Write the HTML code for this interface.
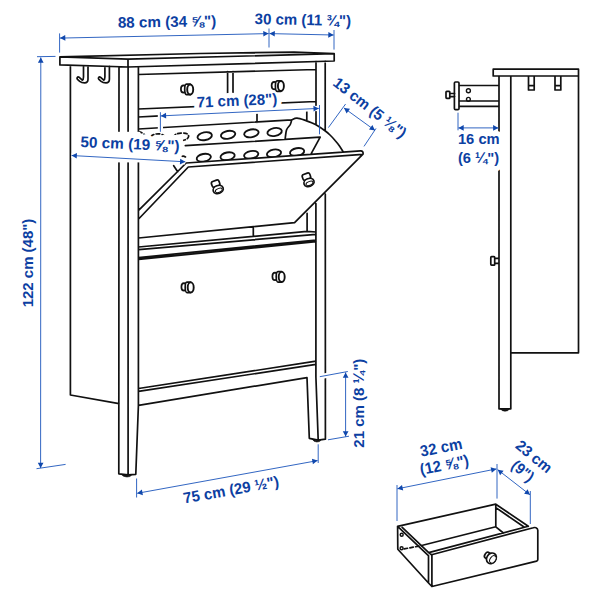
<!DOCTYPE html>
<html lang="en"><head><meta charset="utf-8"><title>Shoe cabinet dimensions</title>
<style>html,body{margin:0;padding:0;background:#fff}body{width:600px;height:600px;overflow:hidden}svg{display:block}</style></head>
<body>
<svg width="600" height="600" viewBox="0 0 600 600">
<rect width="600" height="600" fill="#fff"/>
<g fill="none" stroke="#111" stroke-width="1.7" stroke-linecap="round" stroke-linejoin="round">
<path stroke-dasharray="3.4 2.4" d="M138.7 131.7 Q142 132.3 144.6 134.8 M151 136.3 Q153.5 133.6 159.5 133.9 Q164 134.5 165 137.3 M173.7 137.2 Q174 133.6 181 133.1 Q189 132.6 188.6 136.6 Q188 139 183.7 140.3 M182.3 156.3 Q184 155.6 186.3 157.6 M404.2 548.9 L421.5 545.6"/>
<ellipse cx="204.7" cy="136.2" rx="7.3" ry="3.9" stroke-width="1.85" transform="rotate(-11 204.7 136.2)"/>
<ellipse cx="228.1" cy="134.8" rx="7.3" ry="3.9" stroke-width="1.85" transform="rotate(-11 228.1 134.8)"/>
<ellipse cx="251.4" cy="133.3" rx="7.3" ry="3.9" stroke-width="1.85" transform="rotate(-11 251.4 133.3)"/>
<ellipse cx="274.6" cy="132" rx="7.3" ry="3.9" stroke-width="1.85" transform="rotate(-11 274.6 132)"/>
<ellipse cx="203.8" cy="157.7" rx="7.2" ry="3.8" stroke-width="1.85" transform="rotate(-11 203.8 157.7)"/>
<ellipse cx="227.6" cy="156.2" rx="7.2" ry="3.8" stroke-width="1.85" transform="rotate(-11 227.6 156.2)"/>
<ellipse cx="251.2" cy="154.8" rx="7.2" ry="3.8" stroke-width="1.85" transform="rotate(-11 251.2 154.8)"/>
<ellipse cx="274" cy="153.4" rx="7.2" ry="3.8" stroke-width="1.85" transform="rotate(-11 274 153.4)"/>
<ellipse cx="297.1" cy="152" rx="7.2" ry="3.8" stroke-width="1.85" transform="rotate(-11 297.1 152)"/>
<path fill="#fff" stroke="none" d="M138.6 210.3 L186.2 163 L360.6 150.9 L363 154.2 L294.6 222.6 L138.6 238Z"/>
<path d="M59.9 64.9 L59.9 56.9 L200.0 53.5 L294.0 52.1 L334.2 53.7 L334.2 61.0 L128.0 67.0 L59.9 64.9 M59.9 56.9 L128.0 59.1 L334.2 53.7 M128.0 59.1 L128.0 67.0 M70.4 65.8 L70.4 395.0 L119.0 403.6 M88.0 66.4 L88.0 79.3 C88.0 81.8 86.6 82.9 84.6 82.9 C82.6 82.9 80.9 82.4 79.7 81.4 L77.5 79.4 C76.4 78.2 77.6 76.3 79.0 77.2 L82.3 80.1 C83.2 79.8 83.5 78.8 83.5 77 L83.5 66.3 M109.4 66.4 L109.4 79.3 C109.4 81.8 108.0 82.9 106.0 82.9 C104.0 82.9 102.3 82.4 101.1 81.4 L98.9 79.4 C97.8 78.2 99.0 76.3 100.4 77.2 L103.7 80.1 C104.6 79.8 104.9 78.8 104.9 77 L104.9 66.3 M119.0 66.8 L118.8 473.8 L128.1 474.8 L135.8 474.3 L138.4 405.5 L138.4 67.2 M128.1 67.0 L128.1 474.8 M316.0 61.6 L316.0 124.6 M325.2 61.3 L325.2 130.6 M315.9 203.5 L315.9 376.7 L318.2 440.2 M325.3 194.0 L325.4 439.2 L318.2 440.2 L309.3 438.3 L307.0 377.8 M138.4 74.5 L316.0 69.5 M138.4 109.0 L315.7 101.5 M227.6 71.7 L227.6 105.3 M233.0 71.5 L233.0 105.0 M138.4 117.0 L160.0 115.9 M138.6 129.0 L291.7 119.9 M257.0 112.0 L257.0 122.3 M306.8 110.6 L306.8 120.6 M291.7 119.8 C292.6 119.5 294.6 118.1 297.0 118.2 C299.4 118.3 303.5 119.8 306.0 120.6 C308.5 121.4 310.0 122.1 312.0 123.0 C314.0 123.9 315.8 124.7 318.0 126.0 C320.2 127.3 323.3 129.5 325.3 131.0 C327.3 132.5 328.3 133.4 330.0 135.0 C331.7 136.6 333.8 138.9 335.3 140.7 C336.9 142.5 338.0 143.9 339.3 145.7 C340.6 147.5 342.3 150.4 342.9 151.4 M291.7 119.8 C291.5 120.6 291.1 122.8 290.3 124.5 C289.5 126.2 287.5 127.4 286.6 129.8 C285.7 132.2 285.4 137.6 285.1 139.2 M185.3 145.7 L320.2 137.2 L311.2 153.6 M138.6 210.3 L186.2 163.0 L360.6 150.9 M360.6 150.9 Q363.6 150.8 363 154.2 M363.0 154.2 L294.6 222.6 L138.6 238.0 M138.6 219.0 L188.3 167.0 L362.6 154.4 M173.7 165.7 L177.7 171.7 M253.3 228.2 L253.3 235.8 M307.1 213.3 L307.1 231.4 M138.6 247.0 L307.0 231.4 L316.0 232.0 M138.6 249.6 L316.0 234.4 M138.6 257.6 L316.0 240.0 M138.6 259.4 L316.0 241.6 M138.5 388.5 L316.0 361.2 M138.5 391.3 L316.0 364.4 M138.5 405.3 L307.0 377.6 M493.2 69.2 L578.5 69.2 L578.5 76.0 L493.2 76.0 L493.2 69.2 M499.0 76.0 L499.0 408.8 L510.8 408.8 L510.8 76.0 M578.5 76.0 L578.5 352.8 L510.8 352.8 M528.5 76.0 L528.5 90.0 L534.2 90.0 L534.2 76.0 M528.5 85.6 L534.2 85.6 M555.0 76.0 L555.0 90.0 L560.8 90.0 L560.8 76.0 M555.0 85.6 L560.8 85.6 M455.5 82 H457.9 Q459 82 459 83.1 V108.6 Q459 109.7 457.9 109.7 H455.5 Q454.4 109.7 454.4 108.6 V83.1 Q454.4 82 455.5 82 Z M459.0 85.5 L499.0 85.5 M459.0 101.0 L499.0 101.0 M459.0 106.4 L499.0 106.4 M454.7 93.5 H449.8 V92.1 Q449.8 91.4 449.1 91.4 H446.8 Q446 91.4 446 92.2 V97.6 Q446 98.4 446.8 98.4 H449.1 Q449.8 98.4 449.8 97.7 V96.6 H454.7 M449.8 93.5 L449.8 96.6 M499 258.3 H494.7 V257.4 Q494.7 256.7 494 256.7 H491.6 Q490.8 256.7 490.8 257.5 V264.3 Q490.8 265.1 491.6 265.1 H494 Q494.7 265.1 494.7 264.4 V263.4 H499 M494.7 258.3 L494.7 263.4 M428.5 555.6 L428.5 583.0 L431.9 586.5 L536.6 561.1 M536.6 561.1 Q537.8 560.8 537.8 559.6 L537.8 530.2 Q537.7 528.3 536 527.7 Q534.6 527.3 533.3 527.7 L431.5 554.7 M431.9 554.8 L431.9 586.5 M428.7 552.6 L431.5 554.7 M428.7 552.6 L528.3 526.3 M397.6 526.3 L397.8 549.3 L428.5 583.0 M397.6 526.3 L428.4 555.7 M402.2 527.4 L428.7 552.6 M397.6 526.3 L495.8 504.2 L528.3 526.3 M495.8 507.6 L524.4 527.3 M495.8 505.0 L495.8 526.8 M422.6 545.2 L495.8 526.8 L503.4 533.0"/>
<path fill="#111" stroke-width="0.6" d="M121.6 474.6 L128.1 475.3 L131.6 475 Q130.6 477 127 477 Q123 477 121.6 474.6Z M312.4 439.5 L318.2 440.7 L321 440.2 Q320 442 316.8 442 Q313.4 441.8 312.4 439.5Z M500.8 409.2 H509.2 Q508.4 411.2 505 411.2 Q501.6 411.2 500.8 409.2Z"/>
<circle cx="468.4" cy="90.7" r="2.0" stroke-width="1.4"/>
<circle cx="468.4" cy="99.3" r="1.9" stroke-width="1.4"/>
<circle cx="401.7" cy="534.7" r="1.5" stroke-width="1.4"/>
<circle cx="401.6" cy="548.2" r="1.5" stroke-width="1.4"/>
</g>
<rect x="114" y="131.8" width="26.3" height="30.6" fill="#fff"/>
<path fill="none" stroke="#fff" stroke-width="5.2" stroke-linecap="butt" d="M160.4 112.2 L160.4 131.8 M160.8 115.9 L318.8 108.4 M71.6 155.5 L185.3 161.8 M319.8 376.7 L347.8 371.5"/>
<g font-family="'Liberation Sans', sans-serif" font-weight="700" text-anchor="middle" fill="#0c40a2" stroke="#fff" stroke-linejoin="round" paint-order="stroke">
<text x="167.1" y="27.0" font-size="15.3" stroke-width="10" textLength="98.4" lengthAdjust="spacingAndGlyphs" transform="rotate(-1 167.1 27.0)">88 cm (34 ⅝&quot;)</text>
<text x="302.8" y="25.0" font-size="15.3" stroke-width="10" textLength="96.4" lengthAdjust="spacingAndGlyphs" transform="rotate(1.2 302.8 25.0)">30 cm (11 ¾&quot;)</text>
<text x="32.8" y="263" font-size="14.5" stroke-width="10" textLength="88.7" lengthAdjust="spacingAndGlyphs" transform="rotate(-90 32.8 263)">122 cm (48&quot;)</text>
<text x="237.2" y="105.8" font-size="15.3" stroke-width="10" textLength="80.5" lengthAdjust="spacingAndGlyphs" transform="rotate(-2.4 237.2 105.8)">71 cm (28&quot;)</text>
<text x="129.8" y="149.2" font-size="15.3" stroke-width="10" textLength="99" lengthAdjust="spacingAndGlyphs" transform="rotate(2.4 129.8 149.2)">50 cm (19 ⅝&quot;)</text>
<text x="366.7" y="111.8" font-size="15.3" stroke-width="4" textLength="88" lengthAdjust="spacingAndGlyphs" transform="rotate(38 366.7 111.8)">13 cm (5 ⅛&quot;)</text>
<text x="363.9" y="403.2" font-size="15.3" stroke-width="10" textLength="89" lengthAdjust="spacingAndGlyphs" transform="rotate(-90 363.9 403.2)">21 cm (8 ¼&quot;)</text>
<text x="232" y="495" font-size="15.3" stroke-width="10" textLength="97" lengthAdjust="spacingAndGlyphs" transform="rotate(-10.2 232 495)">75 cm (29 ½&quot;)</text>
<text x="478.8" y="144.4" font-size="14.4" stroke-width="10" textLength="41.7" lengthAdjust="spacingAndGlyphs" transform="rotate(0 478.8 144.4)">16 cm</text>
<text x="478.6" y="163.2" font-size="14.4" stroke-width="10" textLength="41.3" lengthAdjust="spacingAndGlyphs" transform="rotate(0 478.6 163.2)">(6 ¼&quot;)</text>
<text x="442.2" y="452.7" font-size="15.8" stroke-width="10" textLength="42.5" lengthAdjust="spacingAndGlyphs" transform="rotate(-11.3 442.2 452.7)">32 cm</text>
<text x="445.4" y="470.2" font-size="15.8" stroke-width="10" textLength="49.5" lengthAdjust="spacingAndGlyphs" transform="rotate(-11.3 445.4 470.2)">(12 ⅝&quot;)</text>
<text x="530.6" y="460.6" font-size="15.3" stroke-width="10" textLength="42" lengthAdjust="spacingAndGlyphs" transform="rotate(39.5 530.6 460.6)">23 cm</text>
<text x="519.6" y="475" font-size="15.3" stroke-width="10" textLength="24" lengthAdjust="spacingAndGlyphs" transform="rotate(39.5 519.6 475)">(9&quot;)</text>
</g>
<g fill="#fff" stroke="#111" stroke-width="1.7" stroke-linecap="round" stroke-linejoin="round">
<ellipse cx="183.5" cy="89.0" rx="2.6" ry="3.7" transform="rotate(0 183.5 89.0)"/>
<path d="M186.4 84.2 L190.2 84.2 L190.2 94.7 L186.4 94.7 A1.7 5.25 0 0 1 186.4 84.2Z"/>
<ellipse cx="190.2" cy="89.5" rx="3.0" ry="5.0" stroke-width="1.9"/>
<ellipse cx="274.2" cy="85.6" rx="2.6" ry="3.7" transform="rotate(0 274.2 85.6)"/>
<path d="M277.1 80.8 L280.9 80.8 L280.9 91.3 L277.1 91.3 A1.7 5.25 0 0 1 277.1 80.8Z"/>
<ellipse cx="280.9" cy="86.0" rx="3.0" ry="5.0" stroke-width="1.9"/>
<ellipse cx="184.0" cy="286.9" rx="2.6" ry="3.7" transform="rotate(0 184.0 286.9)"/>
<path d="M186.9 282.1 L190.8 282.1 L190.8 292.6 L186.9 292.6 A1.7 5.25 0 0 1 186.9 282.1Z"/>
<ellipse cx="190.7" cy="287.4" rx="3.0" ry="5.0" stroke-width="1.9"/>
<ellipse cx="275.0" cy="276.4" rx="2.6" ry="3.7" transform="rotate(0 275.0 276.4)"/>
<path d="M277.9 271.6 L281.8 271.6 L281.8 282.1 L277.9 282.1 A1.7 5.25 0 0 1 277.9 271.6Z"/>
<ellipse cx="281.7" cy="276.9" rx="3.0" ry="5.0" stroke-width="1.9"/>
<rect x="211.6" y="180.7" width="8" height="6" rx="2" transform="rotate(-20 215.5 183.6)"/>
<ellipse cx="218.2" cy="189.5" rx="5.2" ry="4.0" transform="rotate(-20 218.2 189.5)"/>
<ellipse cx="218.8" cy="190.4" rx="3.6" ry="1.9" stroke-width="1.0" transform="rotate(-20 218.8 190.4)"/>
<rect x="302.4" y="173.7" width="8" height="6" rx="2" transform="rotate(-20 306.2 176.6)"/>
<ellipse cx="309.0" cy="182.5" rx="5.2" ry="4.0" transform="rotate(-20 309.0 182.5)"/>
<ellipse cx="309.5" cy="183.4" rx="3.6" ry="1.9" stroke-width="1.0" transform="rotate(-20 309.5 183.4)"/>
<ellipse cx="487.3" cy="555.4" rx="2.5" ry="3.3" transform="rotate(35 487.3 555.4)"/>
<ellipse cx="491.4" cy="558.3" rx="4.6" ry="5.6" transform="rotate(35 491.4 558.3)"/>
<ellipse cx="492.9" cy="559.4" rx="2.7" ry="4.1" stroke-width="1.0" transform="rotate(35 492.9 559.4)"/>
</g>
<g fill="none" stroke="#1b55bb" stroke-width="0.9" stroke-linecap="butt">
<path d="M59.6 33.4 L59.6 52.6 M269.0 28.5 L269.0 47.5 M334.0 30.0 L334.0 49.6 M60.0 38.1 L268.6 33.6 M269.5 33.6 L333.6 35.0 M37.0 56.7 L55.5 56.4 M36.5 468.7 L65.6 464.4 M40.8 57.4 L40.6 468.0 M160.4 112.2 L160.4 131.8 M319.5 105.0 L319.5 134.3 M160.8 115.9 L318.8 108.4 M71.6 155.5 L185.3 161.8 M328.4 127.6 L345.6 104.0 M364.0 146.4 L376.0 128.4 M344.0 108.0 L375.0 130.4 M319.8 376.7 L347.8 371.5 M328.0 439.8 L349.0 436.2 M345.6 372.4 L345.6 436.6 M136.6 478.5 L136.6 497.5 M318.2 444.3 L318.2 463.0 M137.2 493.3 L317.6 460.6 M458.0 112.7 L458.0 130.3 M458.4 127.9 L498.4 127.9 M397.0 485.0 L397.0 521.0 M497.0 464.0 L497.0 498.6 M530.3 491.0 L530.3 524.0 M397.4 488.8 L496.4 468.9 M497.7 469.7 L530.0 494.8"/>
</g>
<path fill="#1048ad" d="M60.0 38.1 L65.4 40.8 L65.2 35.1Z M268.6 33.6 L263.4 36.6 L263.2 30.9Z M269.5 33.6 L274.7 36.6 L274.9 30.9Z M333.6 35.0 L328.2 37.7 L328.4 32.0Z M40.8 57.4 L37.9 62.7 L43.6 62.7Z M40.6 468.0 L37.8 462.7 L43.5 462.7Z M160.8 115.9 L166.2 118.5 L166.0 112.8Z M318.8 108.4 L313.6 111.5 L313.4 105.8Z M71.6 155.5 L76.7 158.6 L77.0 152.9Z M185.3 161.8 L179.9 164.4 L180.2 158.7Z M344.0 108.0 L346.6 113.4 L350.0 108.8Z M375.0 130.4 L369.0 129.6 L372.4 125.0Z M345.6 372.4 L342.8 377.7 L348.5 377.7Z M345.6 436.6 L342.8 431.3 L348.5 431.3Z M137.2 493.3 L142.9 495.2 L141.9 489.6Z M317.6 460.6 L312.9 464.3 L311.9 458.7Z M458.4 127.9 L463.7 130.8 L463.7 125.1Z M498.4 127.9 L493.1 130.8 L493.1 125.1Z M397.4 488.8 L403.2 490.5 L402.0 485.0Z M496.4 468.9 L491.8 472.7 L490.6 467.2Z M497.7 469.7 L500.1 475.2 L503.6 470.7Z M530.0 494.8 L524.1 493.8 L527.6 489.3Z"/>
</svg>
</body></html>
